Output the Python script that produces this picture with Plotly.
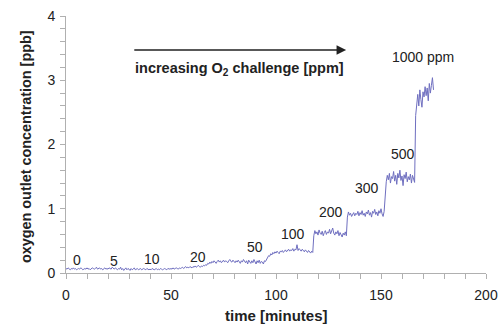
import plotly.graph_objects as go

# Sampling: one reading every 0.5 minutes from t = 0 to t = 175 min
t_start = 0.0
t_step = 0.5

# Oxygen outlet concentration [ppb]
seg_0_20 = [0.07,0.06,0.08,0.07,0.05,0.07,0.06,0.08,0.06,0.07,
            0.05,0.06,0.07,0.06,0.08,0.07,0.05,0.06,0.07,0.06,
            0.08,0.06,0.07,0.05,0.06,0.08,0.07,0.06,0.07,0.09,
            0.06,0.07,0.08,0.06,0.07,0.05,0.07,0.08,0.06,0.07]
seg_20_40 = [0.06,0.08,0.07,0.06,0.09,0.07,0.06,0.08,0.07,0.05,
             0.07,0.06,0.09,0.05,0.07,0.04,0.06,0.08,0.05,0.07,
             0.06,0.04,0.07,0.05,0.06,0.08,0.05,0.06,0.07,0.05,
             0.06,0.07,0.05,0.06,0.07,0.06,0.05,0.07,0.06,0.05]
seg_40_60 = [0.06,0.05,0.07,0.06,0.05,0.06,0.07,0.05,0.06,0.05,
             0.07,0.06,0.05,0.06,0.07,0.06,0.05,0.07,0.06,0.06,
             0.07,0.06,0.08,0.06,0.07,0.08,0.07,0.06,0.08,0.07,
             0.08,0.09,0.07,0.08,0.10,0.08,0.09,0.08,0.10,0.09]
seg_60_80 = [0.08,0.10,0.09,0.11,0.09,0.10,0.12,0.10,0.09,0.11,
             0.10,0.12,0.11,0.13,0.12,0.15,0.14,0.17,0.15,0.18,
             0.16,0.19,0.17,0.15,0.18,0.20,0.17,0.19,0.16,0.18,
             0.20,0.17,0.19,0.18,0.16,0.19,0.21,0.18,0.17,0.20]
seg_80_95 = [0.18,0.16,0.19,0.17,0.20,0.18,0.15,0.19,0.17,0.21,
             0.18,0.16,0.19,0.14,0.20,0.17,0.15,0.19,0.16,0.21,
             0.17,0.14,0.19,0.16,0.20,0.15,0.18,0.17,0.14,0.19]
seg_95_118 = [0.18,0.21,0.24,0.27,0.26,0.30,0.28,0.32,0.30,0.33,
              0.31,0.34,0.32,0.30,0.34,0.33,0.35,0.32,0.34,0.36,
              0.33,0.35,0.37,0.34,0.36,0.35,0.38,0.34,0.37,0.36,
              0.44,0.35,0.38,0.36,0.34,0.37,0.35,0.33,0.36,0.34,
              0.32,0.35,0.33,0.31,0.34,0.32]
seg_118_134 = [0.58,0.66,0.61,0.64,0.59,0.67,0.62,0.60,0.65,0.58,
               0.63,0.66,0.60,0.64,0.62,0.68,0.61,0.65,0.70,0.62,
               0.59,0.64,0.61,0.66,0.58,0.63,0.60,0.56,0.62,0.59,
               0.64,0.58]
seg_134_152 = [0.87,0.95,0.90,0.93,0.88,0.92,0.94,0.89,0.93,0.91,
               0.96,0.89,0.94,0.91,0.97,0.90,0.93,0.88,0.95,0.92,
               0.98,0.90,0.94,0.87,0.96,0.93,0.99,0.91,0.95,0.89,
               0.97,0.93,1.00,0.92,0.88,0.96]
seg_152_166 = [1.25,1.42,1.52,1.45,1.55,1.40,1.50,1.47,1.58,1.43,
               1.52,1.38,1.55,1.48,1.60,1.44,1.51,1.36,1.53,1.47,
               1.57,1.42,1.50,1.45,1.54,1.40,1.52,1.46,1.41]
seg_166_175 = [2.45,2.62,2.78,2.60,2.85,2.70,2.58,2.82,2.74,2.90,
               2.76,2.88,2.68,2.95,2.80,2.92,3.04,2.85]

oxygen_ppb = (seg_0_20 + seg_20_40 + seg_40_60 + seg_60_80 + seg_80_95 +
              seg_95_118 + seg_118_134 + seg_134_152 + seg_152_166 + seg_166_175)
time_min = [t_start + i * t_step for i in range(len(oxygen_ppb))]

# Step labels (O2 challenge in ppm) and where they sit
step_labels = ["0", "5", "10", "20", "50", "100", "200", "300", "500", "1000 ppm"]
step_label_t = [5, 23, 41, 63, 90, 108, 126, 143.2, 160.5, 170]
step_label_y = [0.2, 0.18, 0.22, 0.25, 0.41, 0.61, 0.95, 1.32, 1.85, 3.36]

x_ticks = [0, 50, 100, 150, 200]
y_ticks = [0, 1, 2, 3, 4]

FONT = "Liberation Sans, Arial, sans-serif"
TXT = "#222222"
AX = "#b0b0b0"

fig = go.Figure()
fig.add_trace(go.Scatter(x=time_min, y=oxygen_ppb, mode="lines",
                         line=dict(color="#6f6fc0", width=1),
                         showlegend=False, hoverinfo="skip"))

for lab, tx, ty in zip(step_labels, step_label_t, step_label_y):
    fig.add_annotation(x=tx, y=ty, text=lab, showarrow=False,
                       font=dict(family=FONT, size=14, color=TXT))

# Arrow and caption
fig.add_annotation(x=133.4, y=3.47, ax=31.8, ay=3.47, axref="x", ayref="y",
                   xref="x", yref="y", text="", showarrow=True,
                   arrowhead=2, arrowsize=1.2, arrowwidth=1.6, arrowcolor="#222222")
fig.add_annotation(x=82.5, y=3.17, text="<b>increasing O<sub>2</sub> challenge [ppm]</b>",
                   showarrow=False, font=dict(family=FONT, size=14.5, color=TXT))

# Axis titles placed in paper coordinates
fig.add_annotation(xref="paper", yref="paper", x=0.5, y=0, yshift=-42,
                   xanchor="center", yanchor="middle",
                   text="<b>time [minutes]</b>", showarrow=False,
                   font=dict(family=FONT, size=15, color=TXT))
fig.add_annotation(xref="paper", yref="paper", x=0, xshift=-40, y=0.49,
                   xanchor="center", yanchor="middle",
                   text="<b>oxygen outlet concentration [ppb]</b>", showarrow=False,
                   textangle=-90, font=dict(family=FONT, size=14.4, color=TXT))

fig.update_layout(
    width=498, height=324,
    margin=dict(l=66, r=12, t=16, b=51, autoexpand=False),
    paper_bgcolor="white", plot_bgcolor="white",
    font=dict(family=FONT, size=14, color=TXT),
    xaxis=dict(range=[0, 200], tickvals=x_ticks, showgrid=False, zeroline=False,
               showline=True, linecolor=AX, linewidth=1, automargin=False,
               ticks="outside", ticklen=5, tickcolor=AX, ticklabelstandoff=4,
               minor=dict(dtick=10, ticks="outside", ticklen=5, tickcolor=AX),
               tickfont=dict(family=FONT, size=14, color=TXT)),
    yaxis=dict(range=[0, 4], tickvals=y_ticks, showgrid=False, zeroline=False,
               showline=True, linecolor=AX, linewidth=1, automargin=False,
               ticks="outside", ticklen=5, tickcolor=AX, ticklabelstandoff=2,
               minor=dict(dtick=0.2, ticks="outside", ticklen=5, tickcolor=AX),
               tickfont=dict(family=FONT, size=14, color=TXT)),
)

fig.write_html("out.html")
